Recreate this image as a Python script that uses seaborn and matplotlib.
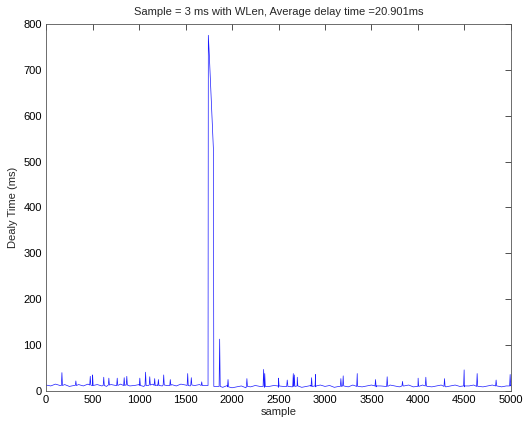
import numpy as np
import pandas as pd
import matplotlib
matplotlib.use("Agg")
import matplotlib.pyplot as plt
import seaborn as sns

# baseline delay, one reading every 50 samples (0 .. 5000)
base_step = 50
base_y = [13, 11, 15, 12, 14, 10, 12, 14, 11, 15,
          12, 14, 11, 10, 14, 12, 15, 13, 11, 12,
          14, 10, 12, 15, 13, 11, 12, 14, 11, 15,
          13, 11, 12, 14, 12, 12, 10,
          10, 8, 12, 7, 9, 11, 7, 9, 12, 10,
          8, 10, 12, 8, 10, 13, 9, 11, 8, 10,
          12, 9, 13, 10, 12, 8, 10, 12, 9, 13,
          11, 9, 11, 13, 9, 11, 10, 13, 11, 9,
          11, 13, 9, 11, 13, 10, 9, 11, 13, 9,
          11, 13, 10, 9, 11, 13, 10, 9, 11, 13,
          11, 9, 11, 13]

# short spikes: position, peak value, foot value
spike_x = [170, 320, 475, 500, 620, 675, 765, 840, 868, 1008, 1070, 1115,
           1168, 1208, 1265, 1336, 1523, 1562, 1674, 1867, 1957, 2160, 2340,
           2352, 2500, 2594, 2659, 2670, 2702, 2856, 2899, 3171, 3196, 3347,
           3544, 3669, 3834, 4002, 4085, 4286, 4497, 4637, 4841, 4992]
spike_peak = [40, 22, 32, 35, 30, 28, 28, 29, 32, 28, 41, 31,
              27, 25, 35, 25, 38, 29, 20, 113, 25, 27, 47,
              38, 28, 24, 38, 35, 30, 29, 36, 27, 33, 38,
              25, 31, 21, 28, 30, 27, 46, 38, 24, 36]
spike_foot = [12, 12, 13, 12, 12, 13, 12, 12, 13, 12, 12, 13,
              12, 12, 13, 12, 12, 13, 12, 10, 9, 10, 10,
              10, 11, 10, 11, 10, 11, 10, 11, 10, 11, 10,
              11, 10, 11, 10, 11, 10, 11, 10, 11, 11]

# the long congestion burst
burst_x = [1742, 1745, 1755, 1765, 1775, 1785, 1795, 1800, 1804]
burst_y = [12, 775, 735, 690, 640, 595, 545, 525, 10]

base_x = np.arange(len(base_y)) * base_step
keep = (base_x < burst_x[0]) | (base_x > burst_x[-1])
xs = list(base_x[keep])
ys = list(np.array(base_y)[keep])
for sx, pk, ft in zip(spike_x, spike_peak, spike_foot):
    xs += [sx - 6, sx, sx + 6]
    ys += [ft, pk, ft]
xs += burst_x
ys += burst_y

df = pd.DataFrame({"sample": xs, "delay": ys}).sort_values("sample", kind="stable")

sns.set_style("white")
plt.rcParams["font.family"] = ["Liberation Sans", "DejaVu Sans"]

fig = plt.figure(figsize=(5.24, 4.25), dpi=100)
ax = fig.add_axes([0.088, 0.08, 0.887, 0.864])
sns.lineplot(data=df, x="sample", y="delay", estimator=None, sort=False,
             color="#1a1aff", linewidth=0.5, ax=ax)

ax.set_xlim(0, 5000)
ax.set_ylim(0, 800)
ax.set_xticks(np.arange(0, 5001, 500))
ax.set_yticks(np.arange(0, 801, 100))
ax.tick_params(direction="in", top=True, right=True, length=4, width=0.6,
               labelsize=8, colors="#333333", labelcolor="black", pad=3)
for sp in ax.spines.values():
    sp.set_color("#555555")
    sp.set_linewidth(0.6)
ax.set_xlabel("sample", fontsize=8, labelpad=1)
ax.set_ylabel("Dealy Time (ms)", fontsize=8, labelpad=4)
ax.set_title("Sample = 3 ms with WLen, Average delay time =20.901ms", fontsize=8, pad=6)

fig.savefig("out.png", dpi=100)
